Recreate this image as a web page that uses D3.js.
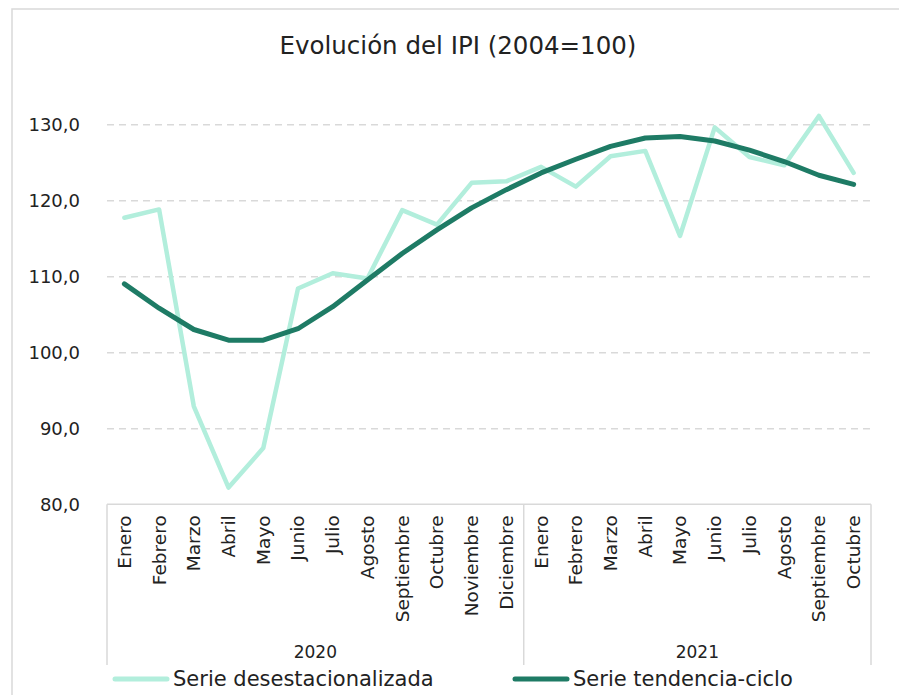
<meta charset="utf-8">
<script src="https://cdn.jsdelivr.net/npm/d3@7"></script>
<style>
  body { margin: 0; background: #fff; }
  text { font-family: "DejaVu Sans", sans-serif; fill: #222; }
  .grid line { stroke: #d9d9d9; stroke-width: 1.5px; stroke-dasharray: 7 5; }
  .grid .domain { display: none; }
  .frame { fill: none; stroke: #d9d9d9; stroke-width: 1.5px; }
  .catline { stroke: #d9d9d9; stroke-width: 1.5px; }
  path.serie { fill: none; stroke-linejoin: round; stroke-linecap: round; }
</style>
<body>
<script>
  var months = ['Enero','Febrero','Marzo','Abril','Mayo','Junio','Julio','Agosto','Septiembre','Octubre','Noviembre','Diciembre',
                'Enero','Febrero','Marzo','Abril','Mayo','Junio','Julio','Agosto','Septiembre','Octubre'];
  var years = ['2020', '2021'];
  var yearMonths = [12, 10];

  var desest = [117.7, 118.8, 92.9, 82.2, 87.4, 108.4, 110.4, 109.7, 118.7, 116.8, 122.3, 122.5,
                124.4, 121.8, 125.8, 126.5, 115.3, 129.6, 125.7, 124.6, 131.1, 123.6];
  var tendencia = [109.0, 105.8, 103.0, 101.6, 101.6, 103.1, 106.0, 109.5, 113.0, 116.1, 119.0, 121.4,
                   123.6, 125.4, 127.1, 128.2, 128.4, 127.8, 126.6, 125.1, 123.3, 122.1];
  var yTicks = [80, 90, 100, 110, 120, 130];

  var W = 899, H = 695;
  var mLeft = 107, mRight = 871, mTop = 124.3, mBottom = 504.3;

  var svg = d3.select('body').append('svg').attr('width', W).attr('height', H);

  svg.append('rect').attr('class', 'frame')
    .attr('x', 12).attr('y', 9).attr('width', 1000).attr('height', 1000);

  svg.append('text').text('Evolución del IPI (2004=100)')
    .attr('x', 458).attr('y', 54).attr('text-anchor', 'middle')
    .style('font-size', '24.5px');

  var x = d3.scaleBand().domain(d3.range(months.length)).range([mLeft, mRight]);
  var y = d3.scaleLinear().domain([80, 130]).range([mBottom, mTop]);

  var es = d3.formatLocale({decimal: ',', thousands: '.', grouping: [3], currency: ['', '€']});
  var fmt = es.format('.1f');

  // gridlines
  svg.append('g').attr('class', 'grid')
    .attr('transform', 'translate(' + mLeft + ',0)')
    .call(d3.axisLeft(y).tickValues(yTicks.slice(1)).tickSize(-(mRight - mLeft)).tickFormat(''))
    .selectAll('text').remove();

  // y labels
  svg.selectAll('text.ylab').data(yTicks).enter()
    .append('text').attr('class', 'ylab')
    .attr('x', 80).attr('y', function(d) { return y(d); })
    .attr('dy', '0.35em').attr('text-anchor', 'end')
    .style('font-size', '18px')
    .text(function(d) { return fmt(d); });

  // category axis box
  var boxBottom = 665;
  svg.append('line').attr('class', 'catline')
    .attr('x1', mLeft).attr('x2', mRight).attr('y1', mBottom).attr('y2', mBottom);
  var cum = 0;
  var seps = [0];
  yearMonths.forEach(function(n) { cum += n; seps.push(cum); });
  svg.selectAll('line.sep').data(seps).enter()
    .append('line').attr('class', 'catline sep')
    .attr('x1', function(d) { return d < months.length ? x(d) : mRight; })
    .attr('x2', function(d) { return d < months.length ? x(d) : mRight; })
    .attr('y1', mBottom).attr('y2', boxBottom);

  svg.selectAll('text.month').data(months).enter()
    .append('text').attr('class', 'month')
    .attr('transform', function(d, i) {
      return 'translate(' + (x(i) + x.bandwidth() / 2) + ',' + (mBottom + 11) + ') rotate(-90)';
    })
    .attr('dy', '0.35em').attr('text-anchor', 'end')
    .style('font-size', '18.5px')
    .text(function(d) { return d; });

  svg.selectAll('text.year').data(years).enter()
    .append('text').attr('class', 'year')
    .attr('x', function(d, i) {
      var a = x(seps[i]), b = seps[i + 1] < months.length ? x(seps[i + 1]) : mRight;
      return (a + b) / 2;
    })
    .attr('y', 652).attr('dy', '0.35em').attr('text-anchor', 'middle')
    .style('font-size', '17px')
    .text(function(d) { return d; });

  var line = d3.line()
    .x(function(d, i) { return x(i) + x.bandwidth() / 2; })
    .y(function(d) { return y(d); });

  var series = [
    {name: 'Serie desestacionalizada', values: desest, color: '#b2eedc', width: 4.5, lx: 113},
    {name: 'Serie tendencia-ciclo', values: tendencia, color: '#1e7b65', width: 5, lx: 513}
  ];

  svg.selectAll('path.serie').data(series).enter()
    .append('path').attr('class', 'serie')
    .attr('d', function(d) { return line(d.values); })
    .attr('stroke', function(d) { return d.color; })
    .attr('stroke-width', function(d) { return d.width; });

  var leg = svg.selectAll('g.leg').data(series).enter()
    .append('g').attr('class', 'leg')
    .attr('transform', function(d) { return 'translate(' + d.lx + ',679)'; });
  leg.append('line').attr('x1', 2).attr('x2', 54).attr('y1', 0).attr('y2', 0)
    .attr('stroke', function(d) { return d.color; })
    .attr('stroke-width', 5).attr('stroke-linecap', 'round');
  leg.append('text').attr('x', 60).attr('dy', '0.35em')
    .style('font-size', '21px')
    .text(function(d) { return d.name; });
</script>
</body>
</html>
